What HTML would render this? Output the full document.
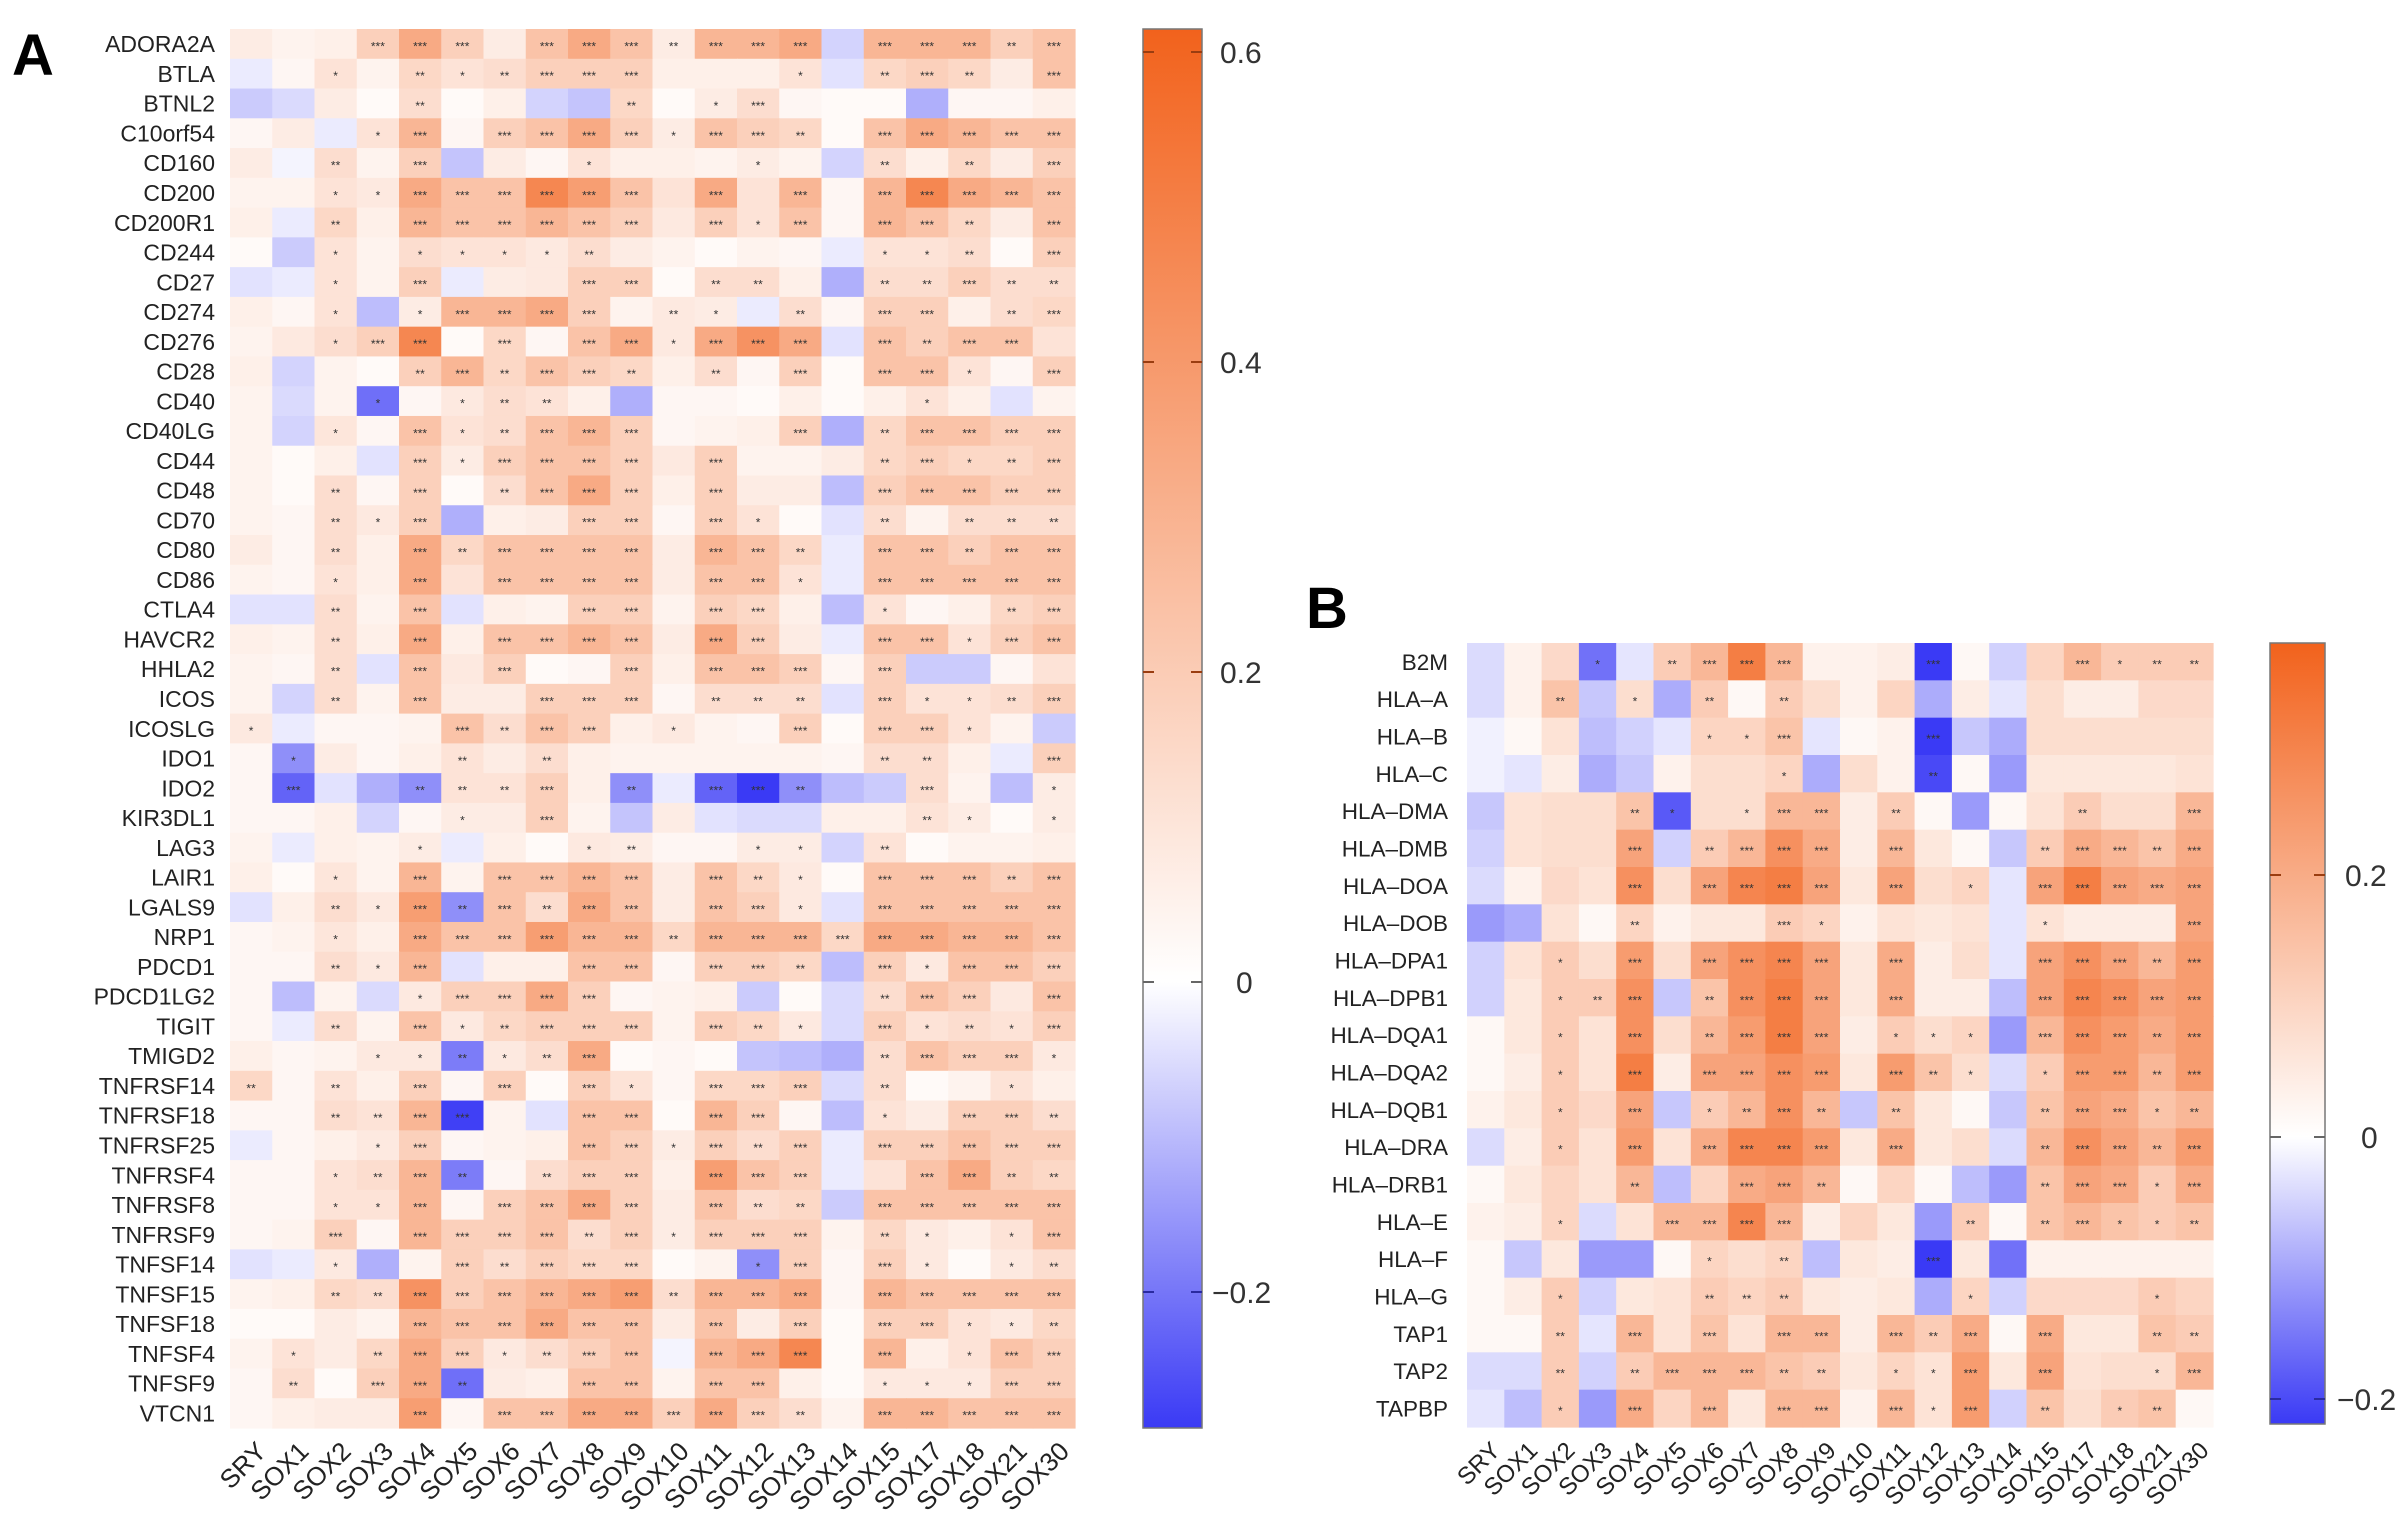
<!DOCTYPE html>
<html><head><meta charset="utf-8">
<style>
html,body{margin:0;padding:0;background:#fff;}
svg{display:block;}
text{font-family:"Liberation Sans",Arial,sans-serif;fill:#222;}
</style></head>
<body>
<svg id="chart" width="2408" height="1525" viewBox="0 0 2408 1525" xmlns="http://www.w3.org/2000/svg">
<defs>
<linearGradient id="gradA" x1="0" y1="0" x2="0" y2="1">
<stop id="gA0" offset="0" stop-color="rgb(242,98,28)"/>
<stop id="gA1" offset="0.5" stop-color="#ffffff"/>
<stop id="gA2" offset="1" stop-color="rgb(58,58,245)"/>
</linearGradient>
<linearGradient id="gradB" x1="0" y1="0" x2="0" y2="1">
<stop id="gB0" offset="0" stop-color="rgb(242,98,28)"/>
<stop id="gB1" offset="0.5" stop-color="#ffffff"/>
<stop id="gB2" offset="1" stop-color="rgb(58,58,245)"/>
</linearGradient>
</defs>
<text x="12" y="75" font-size="58" font-weight="bold" style="fill:#000">A</text>
<text x="1306" y="628" font-size="58" font-weight="bold" style="fill:#000">B</text>
</svg>
<script>
const cols = ["SRY","SOX1","SOX2","SOX3","SOX4","SOX5","SOX6","SOX7","SOX8","SOX9","SOX10","SOX11","SOX12","SOX13","SOX14","SOX15","SOX17","SOX18","SOX21","SOX30"];
const rowsA = ["ADORA2A","BTLA","BTNL2","C10orf54","CD160","CD200","CD200R1","CD244","CD27","CD274","CD276","CD28","CD40","CD40LG","CD44","CD48","CD70","CD80","CD86","CTLA4","HAVCR2","HHLA2","ICOS","ICOSLG","IDO1","IDO2","KIR3DL1","LAG3","LAIR1","LGALS9","NRP1","PDCD1","PDCD1LG2","TIGIT","TMIGD2","TNFRSF14","TNFRSF18","TNFRSF25","TNFRSF4","TNFRSF8","TNFRSF9","TNFSF14","TNFSF15","TNFSF18","TNFSF4","TNFSF9","VTCN1"];
const valsA = [
[.05,.03,.04,.15,.3,.15,.05,.2,.3,.2,.05,.25,.25,.3,-.05,.25,.25,.25,.15,.2],
[-.02,.02,.08,.03,.12,.08,.1,.15,.15,.15,.04,.04,.04,.08,-.03,.12,.15,.12,.05,.2],
[-.06,-.04,.05,.01,.1,.01,.04,-.05,-.07,.12,.01,.05,.1,.02,.01,.01,-.1,.02,.02,.04],
[.02,.05,-.02,.08,.25,.02,.15,.2,.3,.15,.05,.2,.15,.12,.01,.2,.3,.25,.2,.2],
[.05,-.01,.1,.03,.15,-.07,.05,.02,.08,.04,.04,.03,.05,.03,-.05,.1,.04,.12,.05,.15],
[.03,.03,.08,.06,.3,.2,.2,.45,.35,.2,.08,.3,.08,.25,.02,.25,.45,.3,.25,.2],
[.04,-.02,.12,.04,.25,.2,.2,.25,.2,.15,.06,.15,.08,.2,.02,.25,.2,.12,.05,.2],
[.01,-.06,.08,.03,.1,.08,.08,.06,.1,.05,.03,.01,.03,.02,-.02,.08,.08,.1,.01,.15],
[-.03,-.02,.08,.03,.15,-.02,.05,.06,.15,.15,.01,.1,.1,.04,-.1,.1,.1,.15,.1,.1],
[.04,.02,.08,-.08,.05,.25,.25,.3,.15,.03,.06,.05,-.02,.1,.02,.15,.15,.04,.1,.12],
[.03,.06,.1,.15,.45,.01,.12,.02,.2,.3,.06,.3,.4,.3,-.03,.2,.15,.2,.2,.08],
[.04,-.05,.03,.01,.15,.25,.12,.2,.15,.12,.04,.1,.02,.15,.01,.2,.2,.08,.02,.15],
[.03,-.04,.03,-.2,.02,.06,.1,.08,.04,-.1,.02,.02,.01,.04,.01,.04,.08,.04,-.03,.03],
[.03,-.05,.07,.02,.2,.08,.1,.2,.25,.15,.02,.03,.04,.15,-.1,.12,.2,.2,.15,.15],
[.03,.01,.04,-.03,.15,.05,.15,.2,.2,.15,.06,.15,.03,.03,.05,.12,.15,.12,.12,.15],
[.03,.01,.1,.02,.15,.01,.1,.2,.3,.15,.04,.15,.05,.05,-.08,.15,.2,.2,.15,.15],
[.03,.02,.1,.06,.15,-.1,.04,.05,.15,.15,.02,.15,.08,.01,-.03,.1,.03,.1,.1,.1],
[.05,.02,.1,.04,.3,.12,.2,.2,.2,.2,.05,.25,.2,.12,-.02,.2,.2,.15,.2,.2],
[.03,.02,.08,.04,.3,.08,.2,.2,.2,.2,.05,.2,.2,.08,-.02,.2,.2,.2,.2,.2],
[-.03,-.03,.1,.03,.2,-.03,.04,.03,.15,.15,.03,.15,.12,.04,-.08,.08,.02,.04,.12,.15],
[.04,.03,.1,.04,.3,.04,.2,.2,.25,.2,.05,.3,.15,.05,-.02,.2,.2,.08,.15,.2],
[.03,.02,.1,-.03,.2,.06,.15,.01,.02,.15,.04,.2,.2,.15,.02,.15,-.06,-.06,.02,.08],
[.03,-.05,.1,.03,.2,.05,.05,.15,.15,.15,.02,.1,.1,.1,-.03,.15,.08,.08,.1,.15],
[.06,-.02,.02,.02,.03,.2,.1,.2,.15,.04,.06,.03,.02,.15,.01,.15,.15,.08,.03,-.06],
[.02,-.15,.05,.02,.04,.08,.05,.1,.04,.03,.03,.03,.03,.03,.02,.1,.1,.04,-.02,.15],
[.02,-.22,-.03,-.1,-.15,.08,.08,.15,.04,-.15,-.02,-.22,-.3,-.15,-.08,-.06,.1,.03,-.08,.05],
[.02,.02,.04,-.05,.02,.05,.05,.15,.03,-.07,.05,-.03,-.04,-.04,.04,.04,.08,.05,.01,.05],
[.03,-.02,.04,.03,.05,-.02,.04,.01,.06,.05,.02,.02,.05,.05,-.05,.08,.01,.03,.03,.04],
[.04,.01,.07,.03,.25,.03,.2,.2,.25,.2,.05,.2,.12,.06,.01,.2,.2,.2,.15,.2],
[-.03,.04,.1,.06,.35,-.15,.2,.1,.3,.2,.05,.2,.15,.06,-.03,.2,.2,.2,.2,.2],
[.02,.03,.07,.04,.3,.2,.2,.35,.25,.25,.12,.25,.25,.25,.12,.3,.3,.25,.25,.2],
[.02,.02,.1,.06,.25,-.03,.04,.04,.2,.2,.02,.15,.15,.12,-.08,.15,.06,.2,.2,.15],
[.02,-.08,.03,-.04,.06,.15,.15,.3,.15,.02,.03,.04,-.06,.01,-.04,.1,.2,.15,.06,.2],
[.02,-.02,.1,.03,.2,.06,.12,.15,.15,.15,.03,.15,.12,.06,-.04,.15,.08,.1,.08,.15],
[.04,.02,.03,.06,.06,-.18,.06,.1,.3,.01,.02,.01,-.07,-.08,-.1,.1,.2,.15,.15,.06],
[.12,.02,.08,.04,.15,.02,.15,.01,.15,.08,.02,.12,.12,.15,-.04,.1,.01,.03,.08,.04],
[.02,.02,.1,.08,.25,-.28,.03,-.03,.2,.2,.01,.25,.15,.02,-.08,.08,.05,.15,.15,.1],
[-.02,.02,.04,.06,.15,.02,.03,.04,.2,.15,.05,.15,.1,.15,-.02,.15,.15,.2,.15,.15],
[.02,.02,.08,.1,.25,-.18,.02,.1,.15,.15,.04,.35,.2,.15,-.02,.08,.2,.3,.15,.12],
[.02,.02,.08,.08,.25,.02,.15,.2,.3,.15,.05,.2,.1,.12,-.06,.2,.2,.2,.2,.2],
[.02,.03,.15,.02,.25,.15,.15,.2,.1,.15,.05,.15,.15,.15,.03,.12,.06,.04,.08,.2],
[-.03,-.02,.06,-.1,.03,.15,.1,.15,.12,.12,.01,.03,-.15,.15,.02,.15,.06,.01,.06,.1],
[.03,.04,.12,.1,.4,.15,.2,.25,.3,.35,.1,.25,.25,.3,.02,.25,.2,.2,.2,.2],
[.01,.01,.05,.03,.25,.2,.2,.3,.2,.2,.05,.2,.05,.15,.01,.15,.15,.08,.06,.12],
[.03,.08,.05,.12,.3,.15,.06,.1,.15,.2,-.01,.25,.3,.45,.01,.25,.04,.08,.2,.15],
[.02,.1,.01,.15,.3,-.2,.05,.04,.2,.2,.03,.2,.2,.04,.01,.06,.06,.06,.15,.15],
[.02,.04,.05,.05,.35,.02,.2,.2,.3,.3,.15,.3,.15,.1,.03,.25,.25,.2,.2,.2]
];
const starsA = [
"- - - *** *** *** - *** *** *** ** *** *** *** - *** *** *** ** ***",
"- - * - ** * ** *** *** *** - - - * - ** *** ** - ***",
"- - - - ** - - - - ** - * *** - - - - - - -",
"- - - * *** - *** *** *** *** * *** *** ** - *** *** *** *** ***",
"- - ** - *** - - - * - - - * - - ** - ** - ***",
"- - * * *** *** *** *** *** *** - *** - *** - *** *** *** *** ***",
"- - ** - *** *** *** *** *** *** - *** * *** - *** *** ** - ***",
"- - * - * * * * ** - - - - - - * * ** - ***",
"- - * - *** - - - *** *** - ** ** - - ** ** *** ** **",
"- - * - * *** *** *** *** - ** * - ** - *** *** - ** ***",
"- - * *** *** - *** - *** *** * *** *** *** - *** ** *** *** -",
"- - - - ** *** ** *** *** ** - ** - *** - *** *** * - ***",
"- - - * - * ** ** - - - - - - - - * - - -",
"- - * - *** * ** *** *** *** - - - *** - ** *** *** *** ***",
"- - - - *** * *** *** *** *** - *** - - - ** *** * ** ***",
"- - ** - *** - ** *** *** *** - *** - - - *** *** *** *** ***",
"- - ** * *** - - - *** *** - *** * - - ** - ** ** **",
"- - ** - *** ** *** *** *** *** - *** *** ** - *** *** ** *** ***",
"- - * - *** - *** *** *** *** - *** *** * - *** *** *** *** ***",
"- - ** - *** - - - *** *** - *** *** - - * - - ** ***",
"- - ** - *** - *** *** *** *** - *** *** - - *** *** * *** ***",
"- - ** - *** - *** - - *** - *** *** *** - *** - - - -",
"- - ** - *** - - *** *** *** - ** ** ** - *** * * ** ***",
"* - - - - *** ** *** *** - * - - *** - *** *** * - -",
"- * - - - ** - ** - - - - - - - ** ** - - ***",
"- *** - - ** ** ** *** - ** - *** *** ** - - *** - - *",
"- - - - - * - *** - - - - - - - - ** * - *",
"- - - - * - - - * ** - - * * - ** - - - -",
"- - * - *** - *** *** *** *** - *** ** * - *** *** *** ** ***",
"- - ** * *** ** *** ** *** *** - *** *** * - *** *** *** *** ***",
"- - * - *** *** *** *** *** *** ** *** *** *** *** *** *** *** *** ***",
"- - ** * *** - - - *** *** - *** *** ** - *** * *** *** ***",
"- - - - * *** *** *** *** - - - - - - ** *** *** - ***",
"- - ** - *** * ** *** *** *** - *** ** * - *** * ** * ***",
"- - - * * ** * ** *** - - - - - - ** *** *** *** *",
"** - ** - *** - *** - *** * - *** *** *** - ** - - * -",
"- - ** ** *** *** - - *** *** - *** *** - - * - *** *** **",
"- - - * *** - - - *** *** * *** ** *** - *** *** *** *** ***",
"- - * ** *** ** - ** *** *** - *** *** *** - - *** *** ** **",
"- - * * *** - *** *** *** *** - *** ** ** - *** *** *** *** ***",
"- - *** - *** *** *** *** ** *** * *** *** *** - ** * - * ***",
"- - * - - *** ** *** *** *** - - * *** - *** * - * **",
"- - ** ** *** *** *** *** *** *** ** *** *** *** - *** *** *** *** ***",
"- - - - *** *** *** *** *** *** - *** - *** - *** *** * * **",
"- * - ** *** *** * ** *** *** - *** *** *** - *** - * *** ***",
"- ** - *** *** ** - - *** *** - *** *** - - * * * *** ***",
"- - - - *** - *** *** *** *** *** *** *** ** - *** *** *** *** ***"
];
const rowsB = ["B2M","HLA\u2013A","HLA\u2013B","HLA\u2013C","HLA\u2013DMA","HLA\u2013DMB","HLA\u2013DOA","HLA\u2013DOB","HLA\u2013DPA1","HLA\u2013DPB1","HLA\u2013DQA1","HLA\u2013DQA2","HLA\u2013DQB1","HLA\u2013DRA","HLA\u2013DRB1","HLA\u2013E","HLA\u2013F","HLA\u2013G","TAP1","TAP2","TAPBP"];
const valsB = [
[-.03,.02,.07,-.15,-.02,.1,.15,.3,.15,.02,.02,.03,-.25,.01,-.04,.08,.15,.1,.1,.1],
[-.03,.02,.12,-.05,.06,-.08,.1,.01,.1,.06,.02,.08,-.08,.03,-.02,.06,.03,.03,.07,.07],
[-.01,.01,.05,-.06,-.04,-.02,.08,.08,.12,-.02,.01,.02,-.22,-.05,-.08,.06,.06,.06,.06,.06],
[-.01,-.02,.03,-.08,-.05,.02,.06,.06,.08,-.08,.06,.02,-.2,.01,-.1,.04,.04,.04,.04,.05],
[-.05,.05,.06,.06,.12,-.18,.06,.06,.15,.15,.03,.1,.01,-.1,.01,.05,.1,.06,.06,.15],
[-.04,.05,.06,.06,.2,-.04,.1,.15,.25,.18,.03,.15,.04,.01,-.05,.1,.18,.15,.12,.18],
[-.03,.02,.07,.05,.25,.06,.2,.28,.3,.2,.04,.2,.06,.08,-.02,.2,.3,.2,.18,.2],
[-.1,-.08,.05,.01,.08,.02,.04,.04,.1,.08,.02,.05,.04,.05,-.02,.05,.03,.03,.03,.2],
[-.04,.05,.1,.06,.22,.06,.2,.25,.28,.2,.04,.18,.03,.06,-.02,.2,.25,.2,.15,.22],
[-.04,.04,.1,.1,.25,-.05,.12,.25,.3,.2,.04,.18,.03,.03,-.06,.2,.28,.25,.2,.22],
[.01,.04,.1,.05,.25,.06,.15,.22,.3,.2,.03,.1,.06,.08,-.1,.15,.25,.22,.18,.22],
[.01,.03,.1,.05,.3,.03,.2,.2,.25,.22,.04,.22,.12,.06,-.03,.1,.22,.22,.15,.22],
[.02,.04,.1,.07,.2,-.05,.1,.15,.25,.15,-.05,.12,.04,.01,-.05,.12,.2,.18,.12,.15],
[-.03,.03,.1,.05,.22,.05,.18,.28,.28,.22,.04,.18,.04,.06,-.03,.15,.25,.2,.15,.22],
[.01,.04,.08,.05,.15,-.06,.08,.18,.2,.15,.01,.08,.01,-.06,-.1,.12,.2,.18,.1,.18],
[.02,.03,.08,-.03,.05,.15,.15,.28,.15,.03,.08,.04,-.1,.1,.01,.12,.15,.12,.1,.12],
[.01,-.05,.04,-.1,-.1,.01,.08,.06,.08,-.06,.04,.03,-.3,.04,-.15,.02,.02,.02,.02,.02],
[.01,.03,.1,-.04,.04,.05,.1,.08,.1,.04,.03,.04,-.08,.08,-.04,.07,.07,.07,.1,.08],
[.01,.01,.1,-.02,.15,.05,.12,.05,.15,.15,.03,.15,.1,.18,.01,.18,.04,.04,.12,.1],
[-.03,-.03,.1,-.04,.1,.15,.15,.15,.12,.1,.04,.08,.05,.22,.04,.2,.05,.06,.06,.15],
[-.02,-.06,.1,-.1,.18,.08,.15,.04,.15,.15,.02,.15,.05,.22,-.04,.12,.06,.1,.12,.01]
];
const starsB = [
"- - - * - ** *** *** *** - - - *** - - - *** * ** **",
"- - ** - * - ** - ** - - - - - - - - - - -",
"- - - - - - * * *** - - - *** - - - - - - -",
"- - - - - - - - * - - - ** - - - - - - -",
"- - - - ** * - * *** *** - ** - - - - ** - - ***",
"- - - - *** - ** *** *** *** - *** - - - ** *** *** ** ***",
"- - - - *** - *** *** *** *** - *** - * - *** *** *** *** ***",
"- - - - ** - - - *** * - - - - - * - - - ***",
"- - * - *** - *** *** *** *** - *** - - - *** *** *** ** ***",
"- - * ** *** - ** *** *** *** - *** - - - *** *** *** *** ***",
"- - * - *** - ** *** *** *** - * * * - *** *** *** ** ***",
"- - * - *** - *** *** *** *** - *** ** * - * *** *** ** ***",
"- - * - *** - * ** *** ** - ** - - - ** *** *** * **",
"- - * - *** - *** *** *** *** - *** - - - ** *** *** ** ***",
"- - - - ** - - *** *** ** - - - - - ** *** *** * ***",
"- - * - - *** *** *** *** - - - - ** - ** *** * * **",
"- - - - - - * - ** - - - *** - - - - - - -",
"- - * - - - ** ** ** - - - - * - - - - * -",
"- - ** - *** - *** - *** *** - *** ** *** - *** - - ** **",
"- - ** - ** *** *** *** ** ** - * * *** - *** - - * ***",
"- - * - *** - *** - *** *** - *** * *** - ** - * ** -"
];
const ticksA = [0.6, 0.4, 0.2, 0, -0.2];
const ticksB = [0.2, 0, -0.2];

const NS = "http://www.w3.org/2000/svg";
const svg = document.getElementById('chart');
function mk(tag, attrs, parent){ const e=document.createElementNS(NS,tag); for(const k in attrs) e.setAttribute(k,attrs[k]); (parent||svg).appendChild(e); return e; }
const ORANGE=[242,98,28], BLUE=[58,58,245];
function colorFor(v, vmax, vmin){
  let t, c;
  if(v>=0){ t=Math.min(1,v/vmax); c=ORANGE; } else { t=Math.min(1,v/vmin); c=BLUE; }
  t=Math.pow(t,0.85);
  const r=Math.round(255+(c[0]-255)*t), g=Math.round(255+(c[1]-255)*t), b=Math.round(255+(c[2]-255)*t);
  return `rgb(${r},${g},${b})`;
}

function drawPanel(cfg){
  const {rows, vals, stars, x0, x1, y0, y1, vmax, vmin, key, rowFont, colFont, starFont, labelRight, colLabelY} = cfg;
  const cw=(x1-x0)/cols.length, rh=(y1-y0)/rows.length;
  const xS=i=>x0+i*cw, yS=j=>y0+j*rh;
  const g=mk('g',{});
  
  
  rows.forEach((rn,j)=>{
    const st=stars[j].split(' ');
    cols.forEach((cn,i)=>{
      const r=mk('rect',{x:xS(i).toFixed(2),y:yS(j).toFixed(2),width:(cw+0.6).toFixed(2),height:(rh+0.6).toFixed(2),fill:colorFor(vals[j][i],vmax,vmin)},g);
      
      
      const s=st[i];
      if(s && s!=='-'){
        const t=mk('text',{x:(xS(i)+cw/2).toFixed(1),y:(yS(j)+rh/2+starFont*0.55).toFixed(1),'font-size':starFont,'text-anchor':'middle',style:'fill:#333'},g);
        t.textContent=s;
        
        
      }
    });
    const lt=mk('text',{x:labelRight,y:(yS(j)+rh/2+rowFont*0.36).toFixed(1),'font-size':rowFont,'text-anchor':'end'});
    lt.textContent=rn;
    
    
  });
  cols.forEach((cn,i)=>{
    const cx=xS(i)+cw/2+4, cy=colLabelY;
    const t=mk('text',{x:cx.toFixed(1),y:cy,'font-size':colFont,'text-anchor':'end',transform:`rotate(-45 ${cx.toFixed(1)} ${cy})`,dy:'0.7em'});
    t.textContent=cn;
    
    
  });
}

function drawColorbar(cfg){
  const {x0,x1,y0,y1,zeroY,unit,ticks,gradId,stops,key,font,labelX}=cfg;
  const z=(zeroY-y0)/(y1-y0);
  document.getElementById(stops[1]).setAttribute('offset', z.toFixed(4));
  const bar=mk('rect',{x:x0,y:y0,width:x1-x0,height:y1-y0,fill:`url(#${gradId})`,stroke:'#777','stroke-width':1.5});
  
  
  ticks.forEach(v=>{
    const y=zeroY - v/0.2*unit;
    const col = v>0?'#9a3d10':(v<0?'#2a2aa0':'#666');
    mk('line',{x1:x0,x2:x0+11,y1:y,y2:y,stroke:col,'stroke-width':2});
    mk('line',{x1:x1-11,x2:x1,y1:y,y2:y,stroke:col,'stroke-width':2});
    const t=mk('text',{x:(v===0?labelX+16:(v<0?labelX-8:labelX)),y:(y+font*0.36).toFixed(1),'font-size':font,style:'fill:#333'});
    t.textContent = v===0 ? '0' : (v<0 ? '\u2212'+Math.abs(v).toFixed(1) : v.toFixed(1));
    
    
  });
}

drawPanel({rows:rowsA, vals:valsA, stars:starsA, x0:230, x1:1075, y0:29, y1:1428, vmax:0.615, vmin:-0.29, key:'panel-a', rowFont:23, colFont:26, starFont:12, labelRight:215, colLabelY:1440});
drawPanel({rows:rowsB, vals:valsB, stars:starsB, x0:1467, x1:2213, y0:643, y1:1427, vmax:0.377, vmin:-0.22, key:'panel-b', rowFont:22.5, colFont:24, starFont:12, labelRight:1448, colLabelY:1440});
drawColorbar({x0:1143,x1:1202,y0:29,y1:1428,zeroY:982,unit:310,ticks:ticksA,gradId:'gradA',stops:['gA0','gA1','gA2'],key:'panel-a',font:30,labelX:1220});
drawColorbar({x0:2270,x1:2325,y0:643,y1:1424,zeroY:1137,unit:262,ticks:ticksB,gradId:'gradB',stops:['gB0','gB1','gB2'],key:'panel-b',font:30,labelX:2345});
</script>
</body></html>
